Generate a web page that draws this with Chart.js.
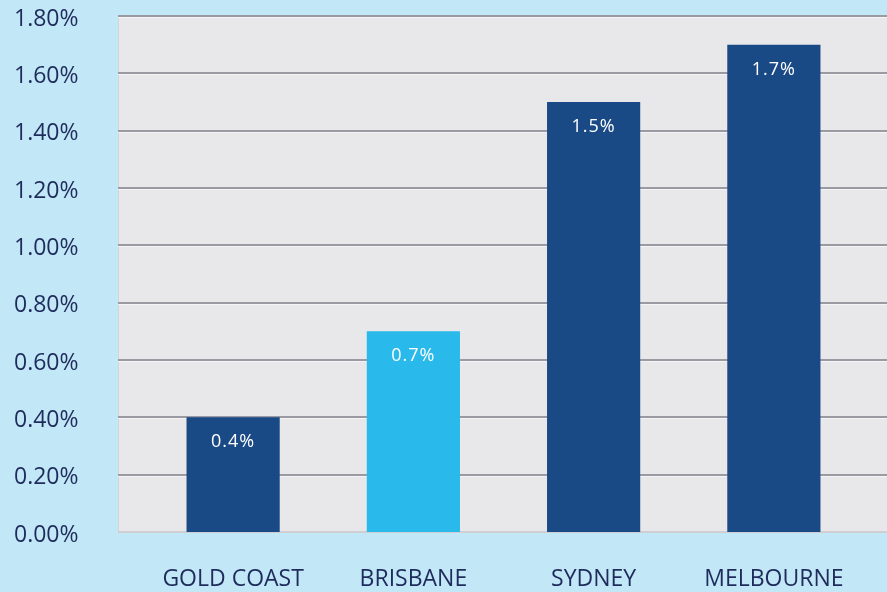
<!DOCTYPE html>
<html>
<head>
<meta charset="utf-8">
<script src="https://cdn.jsdelivr.net/npm/chart.js@4/dist/chart.umd.min.js"></script>
<style>
  html, body { margin: 0; padding: 0; background: #c2e7f6; }
  #wrap { width: 887px; height: 592px; }
</style>
</head>
<body>
<div id="wrap"><canvas id="chart" width="887" height="592"></canvas></div>
<script>
const categories = ["GOLD COAST", "BRISBANE", "SYDNEY", "MELBOURNE"];
const values = [0.4, 0.7, 1.5, 1.7];
const valueLabels = ["0.4%", "0.7%", "1.5%", "1.7%"];
const barColors = ["#1a4a86", "#29b9ea", "#1a4a86", "#1a4a86"];

const PLOT_LEFT = 118;

// gray panel + grid lines drawn across the full panel width
const panelPlugin = {
  id: "panel",
  beforeDatasetsDraw(chart) {
    const { ctx, scales: { y }, width } = chart;
    const top = y.getPixelForValue(1.8) - 1;
    const bottom = y.getPixelForValue(0);
    ctx.save();
    ctx.fillStyle = "#e8e8ea";
    ctx.fillRect(PLOT_LEFT, top, width - PLOT_LEFT, bottom - top);
    ctx.fillStyle = "#d4d4d8";
    ctx.fillRect(PLOT_LEFT, top, 1, bottom - top);
    y.ticks.forEach((t) => {
      const py = Math.round(y.getPixelForValue(t.value));
      if (t.value === 0) {
        ctx.fillStyle = "#cfcfd3";
        ctx.fillRect(PLOT_LEFT, py - 1, width - PLOT_LEFT, 2);
        return;
      }
      ctx.fillStyle = "#9a9aa2";
      ctx.fillRect(PLOT_LEFT, py - 1, width - PLOT_LEFT, 2);
      ctx.fillStyle = "#f4f4f6";
      ctx.fillRect(PLOT_LEFT, py + 1, width - PLOT_LEFT, 1);
    });
    ctx.restore();
  },
};

// white value labels inside the top of each bar
const barLabelPlugin = {
  id: "barLabels",
  afterDatasetsDraw(chart) {
    const { ctx } = chart;
    const meta = chart.getDatasetMeta(0);
    ctx.save();
    ctx.fillStyle = "#ffffff";
    ctx.font = "18px 'Open Sans'";
    ctx.letterSpacing = "1px";
    ctx.textAlign = "center";
    ctx.textBaseline = "middle";
    meta.data.forEach((bar, i) => {
      ctx.fillText(valueLabels[i], bar.x, bar.y + 25);
    });
    ctx.restore();
  },
};

new Chart(document.getElementById("chart"), {
  type: "bar",
  data: {
    labels: categories,
    datasets: [
      {
        data: values,
        backgroundColor: barColors,
        borderWidth: 0,
        categoryPercentage: 1,
        barPercentage: 0.517,
      },
    ],
  },
  options: {
    responsive: false,
    animation: false,
    layout: { padding: { top: 0, right: 23, left: 14, bottom: 0 } },
    plugins: { legend: { display: false }, tooltip: { enabled: false } },
    scales: {
      x: {
        grid: { display: false, drawTicks: false },
        border: { display: false },
        ticks: {
          color: "#1e2b5c",
          font: { family: "Open Sans", size: 23 },
          padding: 34,
          maxRotation: 0,
          autoSkip: false,
        },
        afterFit(s) { s.height = 60; },
      },
      y: {
        min: 0,
        max: 1.8,
        grid: { display: false, drawTicks: false },
        border: { display: false },
        ticks: {
          stepSize: 0.2,
          color: "#1e2b5c",
          font: { family: "Open Sans", size: 23 },
          padding: 2,
          crossAlign: "far",
          labelOffset: 3,
          callback: (v) => v.toFixed(2) + "%",
        },
        afterFit(s) {
          s.width = 129;
          s.paddingTop = 16;
          s.paddingBottom = 0;
        },
      },
    },
  },
  plugins: [panelPlugin, barLabelPlugin],
});
</script>
</body>
</html>
